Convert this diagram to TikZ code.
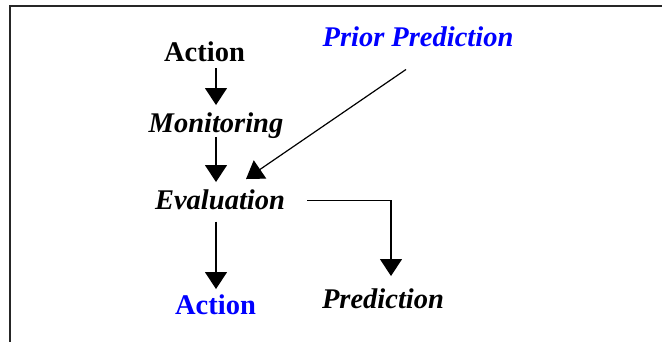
\documentclass[tikz,border=0pt]{standalone}
\usepackage{fontspec}
\setmainfont{Liberation Serif}
\usetikzlibrary{arrows.meta}
\definecolor{pureblue}{RGB}{0,0,255}
\tikzset{
  lbl/.style={inner sep=0pt, anchor=base, font=\fontsize{28.5}{34}\selectfont\bfseries},
  itl/.style={lbl, font=\fontsize{28.5}{34}\selectfont\bfseries\itshape},
  arr/.style={line width=1.2pt, -{Triangle[width=22pt,length=17pt]}},
  frame/.style={line width=2pt, black!85}
}
\begin{document}
\begin{tikzpicture}[x=1pt,y=-1pt]
\useasboundingbox (0,0) rectangle (662,342);
\draw[frame] (10,343) -- (10,6) -- (663,6);

\node[lbl] (act1) at (204.5,62) {Action};
\node[itl] (mon) at (216,133) {Monitoring};
\node[itl, text=pureblue] (prior) at (418,47) {Prior Prediction};
\node[itl] (eval) at (220,210) {Evaluation};
\node[lbl, text=pureblue] (act2) at (215.5,314) {Action};
\node[itl] (pred) at (383,308) {Prediction};

\draw[arr, shorten <=6pt, shorten >=8pt] (act1.south -| mon.base) -- (mon.north);
\draw[arr, shorten <=4pt, shorten >=8pt] (mon.base) -- (mon.base |- eval.north);
\draw[arr, shorten <=11pt, shorten >=5pt] (mon.base |- eval.south) -- (mon.base |- act2.north);
\draw[arr] ([xshift=-12pt,yshift=-22pt]prior.south) -- ([xshift=26pt,yshift=11pt]eval.north);
\draw[arr, shorten <=22pt, shorten >=12pt] (eval.east) -| ([xshift=8pt]pred.north);
\end{tikzpicture}
\end{document}
